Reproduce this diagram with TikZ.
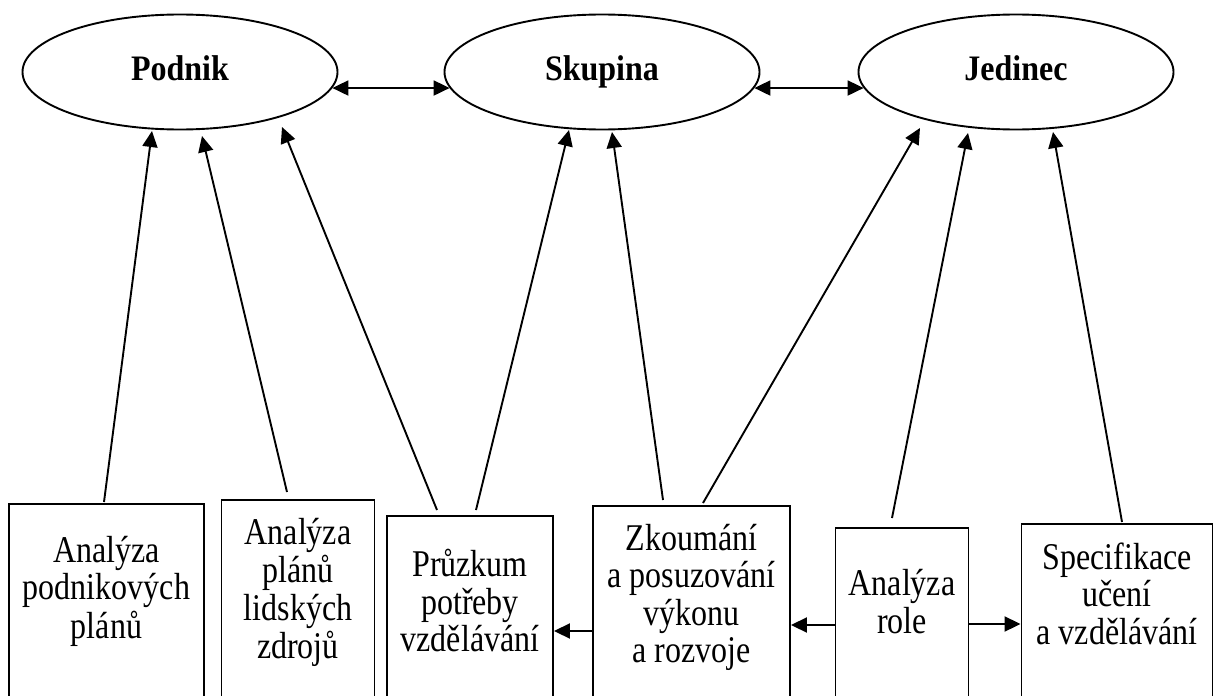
\documentclass[tikz,border=0pt]{standalone}
\usepackage{fontspec}
\usepackage{graphicx}
\setmainfont{Liberation Serif}
\usetikzlibrary{shapes.geometric,arrows.meta,calc}
\newcommand{\vtxt}[1]{\scalebox{1}[1.18]{\begin{tabular}{@{}c@{}}#1\end{tabular}}}
\begin{document}
\begin{tikzpicture}[x=1pt,y=-1pt,
  ell/.style={draw,line width=1.9pt,ellipse,minimum width=315pt,minimum height=115pt,inner sep=0pt,
    text height=16pt,text depth=0pt,font=\fontsize{32}{32}\selectfont\bfseries},
  boxst/.style={draw,line width=1.9pt,anchor=north,inner sep=0pt},
  txt/.style={align=center,inner sep=0pt,font=\fontsize{32}{31.8}\selectfont},
  arr/.style={line width=1.9pt,-{Triangle[length=16pt,width=15pt]}},
  dbl/.style={line width=1.9pt,{Triangle[length=16pt,width=15pt]}-{Triangle[length=16pt,width=15pt]}}]
\useasboundingbox (0,0) rectangle (1218,696);
\clip (0,0) rectangle (1218,696);
\fill[white] (0,0) rectangle (1218,696);
% ellipses
\node[ell] (pod) at (180,72) {\scalebox{1}[1.12]{Podnik}};
\node[ell] (sku) at (602,72) {\scalebox{1}[1.12]{Skupina}};
\node[ell] (jed) at (1016,72) {\scalebox{1}[1.12]{Jedinec}};
\draw[dbl] (pod.-6) -- (sku.-174);
\draw[dbl] (sku.-6) -- (jed.-174);
% boxes
\node[boxst,minimum width=195pt,minimum height=230pt] (b1) at (106.5,503) {};
\node[boxst,minimum width=153pt,minimum height=230pt] (b2) at (298,499) {};
\node[boxst,minimum width=166pt,minimum height=230pt] (b3) at (470,515) {};
\node[boxst,minimum width=197pt,minimum height=230pt] (b4) at (691.5,505) {};
\node[boxst,minimum width=133pt,minimum height=230pt] (b5) at (902,527) {};
\node[boxst,minimum width=191pt,minimum height=230pt] (b6) at (1117,523) {};
% texts
\node[txt] (t1) at (106.5,593) {\vtxt{Analýza\\podnikových\\plánů}};
\node[txt] (t2) at (298,594) {\vtxt{Analýza\\plánů\\lidských\\zdrojů}};
\node[txt] (t3) at (470,606) {\vtxt{Průzkum\\potřeby\\vzdělávání}};
\node[txt] (t4) at (691.5,599) {\vtxt{Zkoumání\\a posuzování\\výkonu\\a rozvoje}};
\node[txt] (t5) at (902,607) {\vtxt{Analýza\\role}};
\node[txt] (t6) at (1117,599) {\vtxt{Specifikace\\učení\\a vzdělávání}};
% arrow ends
\coordinate (s1) at (104,502);  \coordinate (e1) at (152,131);
\coordinate (s2) at (287,492);  \coordinate (e2) at (202,136);
\coordinate (s3) at (437,510);  \coordinate (e3) at (282,127);
\coordinate (s4) at (476,510);  \coordinate (e4) at (569,130);
\coordinate (s5) at (663,500);  \coordinate (e5) at (612,132);
\coordinate (s6) at (703,503);  \coordinate (e6) at (920,128);
\coordinate (s7) at (892,518);  \coordinate (e7) at (968,133);
\coordinate (s8) at (1122,522); \coordinate (e8) at (1053,132);
\foreach \i in {1,...,8} {\draw[arr] (s\i) -- (e\i);}
% horizontal arrows
\draw[arr] ($(b4.north west)+(0,126)$) -- ($(b3.north east)+(0,116)$);
\draw[arr] ($(b5.north west)+(0,98)$) -- ($(b4.north east)+(0,120)$);
\draw[arr] ($(b5.north east)+(0,97)$) -- ($(b6.north west)+(0,101)$);
\end{tikzpicture}
\end{document}
